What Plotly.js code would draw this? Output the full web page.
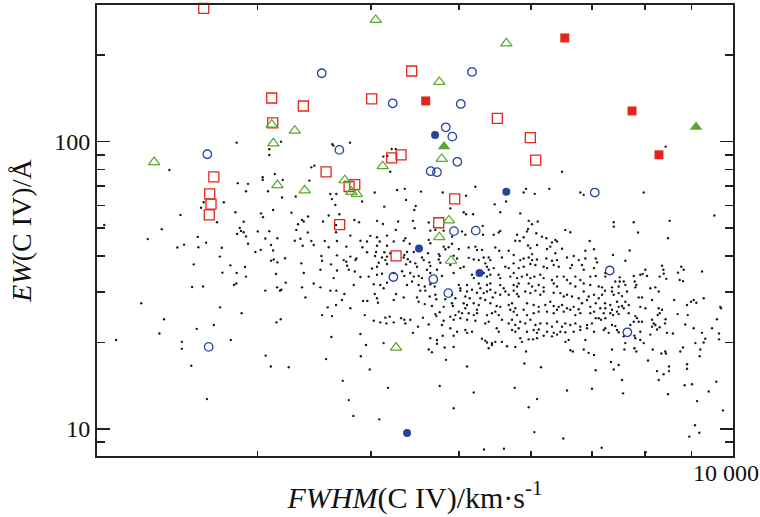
<!DOCTYPE html>
<html><head><meta charset="utf-8">
<script src="https://cdn.plot.ly/plotly-3.0.1.min.js"></script>
<style>html,body{margin:0;padding:0;background:#fff}#chart{width:760px;height:517px}</style>
</head><body><div id="chart"></div>
<script>
// Background sample: FWHM(C IV) [km/s] and EW(C IV) [Å]
const dotFWHM = [
3093,2402,3042,3042,3136,3200,2856,2931,2916,3083,
3194,3307,2620,2602,2757,2839,3029,3044,3123,3271,
2470,2710,2899,2037,2356,2870,2879,2899,2851,2916,
3004,3093,3312,2581,2274,2636,3062,3157,3299,2931,
3107,2493,2451,2585,2743,3026,3123,2986,2729,3219,
3107,3128,3157,2555,2803,2909,2747,2848,3146,2916,
3224,2829,2845,2544,2616,3062,3155,3178,3189,2237,
2731,2884,2370,3149,3184,2574,2688,2342,2099,2479,
2479,2806,3065,2539,3105,3249,2642,2848,3186,3093,
3628,3637,3794,3467,3440,4216,4260,4128,4170,8434,
3423,3610,3665,3625,4039,4274,4358,4201,4541,4797,
4372,3656,3912,4138,4480,4464,3693,3595,3412,3360,
3375,3326,3544,3836,3882,3662,4062,4449,4124,4285,
4630,4260,4469,4649,4708,4809,3409,3662,3797,3994,
4062,4166,4090,4364,4346,4413,4630,4649,3346,3440,
3559,3671,3895,3961,3366,3461,3595,4062,4166,4238,
3759,3915,3961,4052,4138,4201,4383,4353,4458,4622,
4749,4809,4829,3529,3671,3797,3856,3846,3535,3734,
3759,4042,4114,4166,4149,4346,4391,4552,4572,4761,
4749,3354,3616,3766,4080,4166,4372,4419,4476,4495,
4637,4649,4768,3375,3520,3671,3782,3840,4011,4062,
3895,3978,4062,4114,4238,4328,4353,4419,4458,4514,
4552,4610,4649,4728,4788,3640,3461,4029,4096,4166,
4383,4439,4514,4584,4649,4701,3360,3520,3830,4131,
6488,5210,5923,5888,6055,6282,6795,6854,5089,5631,
5472,5549,5837,4890,5059,5089,5180,5963,6101,6014,
6625,6542,5953,5938,5308,5549,5527,5458,6079,5790,
5037,5080,5312,4911,5764,5829,5888,6167,6235,6379,
6406,6325,6959,4911,4870,4996,5123,5210,5232,5298,
5480,5535,5669,5953,5988,6090,6014,6246,6298,6379,
6488,6882,7035,6683,4932,4974,5123,5189,5255,5321,
5389,5411,5573,5741,5837,5888,5963,6014,6090,6235,
6325,6406,6570,6768,6882,7065,4890,5016,5059,5342,
5366,5389,5458,5621,5669,5741,5814,5888,5988,6065,
6193,6246,6353,6434,6625,6653,6824,6854,7035,4932,
5166,5189,5321,5366,5411,5527,5549,5692,5741,5790,
5862,5938,5988,6049,6141,6193,6325,6406,6516,6570,
6710,6795,6969,7065,4996,5016,5102,5255,5276,5366,
5411,5549,5598,5741,5790,5814,5963,6014,6116,6193,
6353,6406,6625,6710,6854,6969,
7978,9539,7395,7395,
7779,8520,7864,8483,7700,7381,7615,8356,8774,8828,
9246,8011,7909,7956,8045,7779,7239,7239,8307,8392,
8447,8701,8738,8812,7507,7424,7507,7584,7798,7830,
7810,7615,7119,7179,7363,7488,8112,8215,7089,8385,
3389,3610,3665,3740,4039,4062,4072,4263,4346,4495,
4514,4532,4591,4642,4708,4720,3717,3662,3586,3922,
3964,4238,4584,4668,4809,4829,3797,3535,3625,3938,
4029,4096,4160,4149,4195,4238,4317,4353,4364,4419,
4563,4506,4630,4708,4720,4761,4809,4788,4449,3895,
3619,4797,4649,4728,4728,3951,4131,4630,4668,4821,
3571,3899,4837,3988,3725,4177,4761,3782,3826,4086,
5016,5102,5166,5232,5321,5366,5411,5480,5549,5621,
5669,5741,5790,5814,5912,5988,6065,6141,6193,6353,
6460,6516,6570,6653,6768,6854,6940,7035,4911,4953,
5080,5136,5276,5342,5444,4911,4923,5059,5102,5080,
5189,5255,5232,5411,5499,5549,5669,5717,5764,5938,
6039,6116,6219,6298,6353,6434,6488,6570,6683,6768,
6824,6911,6969,7065,4996,4953,5037,5123,5189,5232,
5366,5434,5480,5527,5692,5741,5790,5888,5938,6039,
6116,6246,6353,6406,6516,6625,6710,6795,6969,7035,
4890,4932,5016,5102,5210,5342,5389,5573,5669,5717,
5764,5837,5912,5988,6065,6141,6246,6325,6406,6488,
6542,6625,6710,6795,6911,6999,7065,4890,4974,5080,
5102,5166,5499,5527,5717,5764,5814,5938,6039,6090,
6116,6246,6353,6460,6542,6683,6795,6911,7035,4932,
5298,5342,5366,5434,5480,5573,5837,5862,5963,6029,
6090,6193,6325,6406,6542,6598,6882,4932,5389,5434,
5645,5764,6625,6668,6854,6940,7035,5923,5898,5102,
6152,7065,5755,6570,6999,5189,6090,5963,4932,
7234,7363,7395,7488,7552,7648,7179,7119,7877,7943,8286,
8148,8618,8902,8992,9054,9114,9285,9684,9701,7234,
7330,7239,7363,7457,7488,7552,7615,7681,7909,8011,
7147,7210,7119,7330,7381,7457,7488,7584,7681,7810,
7844,7779,7877,7943,8286,8356,8307,8265,8694,8917,
9602,8432,8419,8148,8183,8216,8148,7160,7239,7363,
7424,7712,8863,9054,9483,7210,7239,7302,7488,7457,
7584,7909,8251,8307,8462,8590,7792,7810,7909,7978,
8112,9246,9322,9284,9091,9653,9653,7615,7363,7596,
7792,7830,8162,8341,8424,8439,8751,8812,9206,9192,
8065,7344,7488,8902,8902,8505,8505,7395,8251,8390,
7552,8286,9586,8850,9014,9405,7571,8483,9130,
6049,6509,7172,5325,5601,8018,9083,9183,8954,9749
];
const dotEW = [
89.9,79.7,75.2,73.6,77.2,73.6,71.7,71.3,67.2,67.2,
63.9,64.4,61.5,58.9,61.5,56.8,56.3,54.6,57.8,56.6,
55.6,52.4,52.6,51.3,49.6,50.1,48.9,48.4,47.7,46.8,
48.7,48.8,49.3,46.6,45.8,44.5,46.0,46.1,45.2,44.1,
43.7,43.8,42.8,42.9,42.7,42.0,41.8,41.3,39.8,39.3,
38.5,38.9,38.0,37.4,37.1,36.6,35.0,34.9,34.6,33.9,
32.3,31.7,32.1,31.2,31.3,30.3,31.1,30.3,30.5,27.4,
26.5,25.3,24.1,23.5,24.1,22.3,23.0,21.5,20.4,20.1,
19.0,20.4,18.0,16.6,16.5,16.4,12.7,99.2,100,94.1,
98.0,96.9,99.2,82.5,81.4,94.3,94.3,88.7,89.2,96.1,
73.2,65.7,65.7,63.1,66.5,67.9,68.5,78.6,67.0,66.5,
62.7,60.2,61.9,59.4,59.7,57.8,55.9,55.3,54.9,53.4,
52.7,51.6,52.7,53.4,52.4,51.3,53.0,53.0,51.7,52.7,
52.3,49.3,50.0,49.0,49.3,49.0,48.3,48.4,47.1,47.0,
46.5,47.1,44.9,46.1,45.2,44.1,45.5,44.3,45.9,45.1,
45.1,45.1,45.2,44.9,43.4,43.7,42.9,43.4,43.4,44.9,
43.1,42.9,41.2,41.3,41.2,40.9,41.3,40.3,41.3,40.9,
40.6,43.1,42.2,40.0,40.2,39.8,39.2,38.7,38.5,38.7,
38.2,40.0,39.5,39.8,38.7,39.5,39.0,39.5,38.7,40.0,
38.9,37.7,37.4,37.0,37.9,37.5,37.4,38.2,37.7,36.7,
38.0,36.9,37.9,34.9,35.8,35.6,35.8,35.3,36.2,36.7,
33.8,33.9,34.4,34.7,34.9,35.4,34.1,34.9,33.9,34.1,
33.5,35.8,34.9,35.8,34.1,33.5,32.1,31.9,31.7,32.3,
31.7,32.6,31.7,31.3,31.9,31.3,31.1,31.1,31.7,30.9,
78.6,69.7,68.5,66.5,65.8,68.5,66.5,65.3,64.8,61.9,
60.5,56.8,56.3,58.6,56.8,55.9,55.9,53.0,52.7,51.6,
48.4,49.3,49.7,48.7,50.9,48.9,48.3,47.4,48.0,47.4,
48.7,47.4,47.4,46.7,45.2,45.1,46.5,46.7,46.1,45.5,
44.9,44.6,45.1,44.1,42.9,42.3,42.8,43.1,42.0,42.0,
42.8,41.7,41.7,43.5,42.6,43.7,40.6,42.3,43.1,40.9,
42.4,41.7,42.2,40.0,40.1,39.2,39.4,38.9,38.7,39.5,
39.5,38.7,39.5,40.3,38.7,39.2,39.5,38.7,38.9,39.2,
38.5,38.7,39.5,38.7,39.2,39.2,37.2,36.3,36.7,37.7,
36.7,35.8,36.3,36.7,36.3,37.7,36.3,36.7,37.5,37.2,
36.7,36.3,37.2,36.7,36.3,37.2,37.2,35.8,36.3,34.9,
34.4,33.5,34.9,33.9,34.4,34.4,33.5,33.9,34.9,33.5,
33.9,34.4,33.5,33.9,34.4,33.5,33.0,33.9,33.9,33.0,
33.9,33.0,33.9,34.1,31.7,30.9,31.7,32.1,30.9,31.7,
32.1,31.7,30.9,31.7,31.3,32.1,32.1,31.3,31.7,31.1,
32.1,31.3,32.1,31.3,32.1,31.7,
66.5,55.3,52.4,50.6,
52.4,53.0,48.3,46.1,41.8,40.3,38.5,37.0,36.7,35.8,
35.3,35.8,34.4,34.6,34.1,34.1,34.9,33.9,33.9,34.7,
33.3,35.0,33.0,32.7,33.7,32.6,32.6,32.6,32.6,31.7,
31.1,31.7,31.3,31.1,31.1,31.3,30.9,31.1,38.0,35.8,
28.7,30.3,30.3,29.5,29.5,28.5,27.5,29.5,28.7,28.7,
27.7,30.3,30.3,28.9,29.3,28.3,28.1,27.0,26.5,27.9,
27.9,28.1,27.2,26.8,26.6,28.3,26.3,24.9,24.7,24.9,
23.8,23.5,23.3,24.4,24.6,23.5,24.3,24.0,23.3,24.0,
24.4,22.7,23.1,25.1,24.7,25.5,23.8,23.0,21.6,21.4,
20.9,21.1,20.7,20.4,19.8,19.6,19.9,18.9,18.5,19.2,
17.5,17.9,17.4,16.1,14.7,13.9,14.1,12.6,11.1,10.8,
30.3,30.1,30.5,29.8,29.7,30.1,30.5,29.8,29.3,30.1,
29.3,30.3,29.5,28.9,30.1,29.7,30.3,29.3,30.1,29.8,
29.7,28.9,29.3,28.9,28.5,30.1,28.9,29.3,29.3,28.5,
28.9,28.5,28.5,28.1,28.7,27.4,26.8,27.4,27.0,26.3,
27.4,27.0,26.0,27.4,26.8,26.6,27.0,27.4,26.3,27.4,
27.0,26.6,27.0,27.7,26.8,26.6,27.0,26.3,26.6,26.1,
27.4,28.1,26.6,27.4,25.6,24.9,25.3,25.3,24.9,25.3,
24.9,25.3,25.6,24.9,26.0,25.6,24.9,26.0,24.9,25.3,
25.6,25.6,25.3,26.0,25.6,26.0,24.9,25.3,25.3,25.6,
24.6,24.0,24.3,24.0,23.8,23.3,23.6,24.0,23.3,24.0,
23.0,23.6,23.3,24.0,23.0,23.3,23.3,22.7,23.6,22.7,
23.3,23.0,23.3,22.7,23.0,23.3,24.3,22.4,21.8,22.1,
21.6,21.8,22.4,21.8,22.1,21.8,22.4,21.8,22.1,21.6,
22.2,21.8,21.6,21.8,21.7,21.8,22.1,22.4,21.8,21.1,
20.6,20.3,20.0,19.9,20.1,20.1,20.7,20.1,20.5,20.5,
20.7,21.1,21.0,21.3,20.1,20.4,20.4,19.3,19.1,19.6,
19.4,19.3,18.8,18.6,18.9,18.4,18.1,18.6,16.9,16.5,
16.4,16.0,13.9,13.6,13.8,13.4,12.7,11.9,11.8,
30.3,30.1,29.3,29.7,29.0,30.1,29.3,28.5,28.7,28.7,30.1,
28.1,28.1,27.0,27.7,28.1,27.5,28.5,26.6,26.3,27.4,
27.0,26.3,26.0,27.7,26.6,26.8,27.7,27.0,26.6,26.3,
26.3,25.3,24.3,25.3,24.9,25.6,25.1,26.3,25.3,24.7,
24.3,23.6,23.6,23.6,26.3,26.0,25.3,24.9,25.1,24.9,
24.1,24.1,23.3,24.0,23.3,23.0,22.7,24.0,24.3,23.0,
22.8,23.0,23.1,22.4,22.4,22.1,22.4,21.6,21.7,22.1,
21.0,21.8,22.2,22.6,21.6,21.5,21.1,20.7,20.4,19.9,
21.3,21.6,20.6,20.0,19.9,21.5,20.5,19.9,18.9,18.9,
19.1,18.6,18.9,18.3,18.6,18.3,18.6,19.2,18.9,17.9,
17.3,17.1,16.7,16.8,16.2,16.5,15.9,16.1,15.9,15.5,
14.8,14.8,14.6,14.2,14.3,13.5,13.3,13.2,12.5,
9.75,9.26,8.6,8.48,8.53,8.3,10.3,9.7,9.4,11.6
];

// Highlighted sub-samples
const redOpenFWHM = [2620,3112,3371,4008,3120,2688,3571,3785,3840,2660,2669,2657,3696,4435,5508,5988,4317,4216,6070,4945,4749,4263];
const redOpenEW   = [291,141.9,133.1,140.8,116.2,75.4,78.5,69.8,70.9,65.8,60.6,55.6,51.4,176.2,120.6,103.3,90.0,87.8,86.2,63.2,52.2,40.0];
const redFillFWHM = [6533,4595,7745,8292];
const redFillEW   = [229.6,138.6,127.9,90.0];
const blueOpenFWHM = [3532,2644,3693,5166,4227,5021,4834,4915,4978,4653,4728,7048,4936,5215,4234,4684,4865,7320,7654,2653];
const blueOpenEW   = [173.0,90.4,93.6,174.8,136.0,135.3,112.2,104.1,85.1,78.9,78.3,66.5,48.8,49.0,33.8,33.2,29.7,35.6,21.7,19.3];
const blueFillFWHM = [4705,5635,4518,5265,4383];
const blueFillEW   = [105.5,66.9,42.5,34.9,9.68];
const greenOpenFWHM = [4049,5635,4756,3112,3299,3125,2311,3744,3807,3860,3157,3383,4121,4785,4874,4756,4899,4263];
const greenOpenEW   = [265.2,220.0,161.4,114.6,109.2,98.7,84.9,73.4,66.9,65.8,70.6,67.7,82.2,87.1,53.2,46.5,38.5,19.2];
const greenFillFWHM = [9107,4813];
const greenFillEW   = [112.5,96.1];

// Axis ticks
const xTickVals = [3000,4000,5000,6000,7000,8000,9000,10000];
const xTickText = ['','','','','','','','10 000'];
const yTickVals = [10,100];
const yTickText = ['10','100'];
const yMinorVals = [9,20,30,40,50,60,70,80,90,200];

const RED = '#e3261c', BLUE = '#2443a0', GREEN = '#55a82c';

function pts(x, y, symbol, color, size, lw) {
  return {x: x, y: y, type: 'scatter', mode: 'markers', hoverinfo: 'skip', cliponaxis: false,
    marker: {symbol: symbol, color: color, size: size, line: {color: color, width: lw}}};
}

const traces = [
  {x: dotFWHM, y: dotEW, type: 'scatter', mode: 'markers', hoverinfo: 'skip',
   marker: {symbol: 'circle', color: '#1a1a1a', size: 2.4, line: {width: 0}}},
  pts(redOpenFWHM, redOpenEW, 'square-open', RED, 10, 1.3),
  pts(blueOpenFWHM, blueOpenEW, 'circle-open', BLUE, 8.5, 1.3),
  pts(greenOpenFWHM, greenOpenEW, 'triangle-up-open', GREEN, 10, 1.2),
  pts(redFillFWHM, redFillEW, 'square', RED, 9, 0),
  pts(blueFillFWHM, blueFillEW, 'circle', BLUE, 8, 0),
  pts(greenFillFWHM, greenFillEW, 'triangle-up', GREEN, 11, 0)
];

const FONT = 'Liberation Serif, Times New Roman, serif';
const layout = {
  width: 760, height: 517,
  margin: {l: 97, r: 27, t: 5, b: 61},
  paper_bgcolor: '#fff', plot_bgcolor: '#fff',
  showlegend: false,
  font: {family: FONT, color: '#111', size: 24},
  xaxis: {
    type: 'log', range: [Math.log10(2000), 4],
    tickmode: 'array', tickvals: xTickVals, ticktext: xTickText,
    ticks: 'inside', ticklen: 5, tickwidth: 1.4, tickcolor: '#222',
    showline: true, linecolor: '#222', linewidth: 2, mirror: 'ticks',
    showgrid: false, zeroline: false,
    tickfont: {family: FONT, size: 24, color: '#111'},
    ticklabelshift: -7, ticklabelstandoff: -6,
    title: {text: '<i>FWHM</i>(C IV)/km·s<sup>-1</sup>', font: {family: FONT, size: 30, color: '#111'}, standoff: 2}
  },
  yaxis: {
    type: 'log', range: [Math.log10(8.05), Math.log10(299)],
    tickmode: 'array', tickvals: yTickVals, ticktext: yTickText,
    ticks: 'inside', ticklen: 13, tickwidth: 1.4, tickcolor: '#222',
    minor: {tickmode: 'array', tickvals: yMinorVals, ticks: 'inside', ticklen: 8, tickwidth: 1.4, tickcolor: '#222', showgrid: false},
    showline: true, linecolor: '#222', linewidth: 2, mirror: 'ticks',
    showgrid: false, zeroline: false,
    tickfont: {family: FONT, size: 24, color: '#111'},
    title: {text: '<i>EW</i>(C IV)/Å', font: {family: FONT, size: 28, color: '#111'}, standoff: 14}
  }
};

Plotly.newPlot('chart', traces, layout, {staticPlot: true, displayModeBar: false});
</script></body></html>
